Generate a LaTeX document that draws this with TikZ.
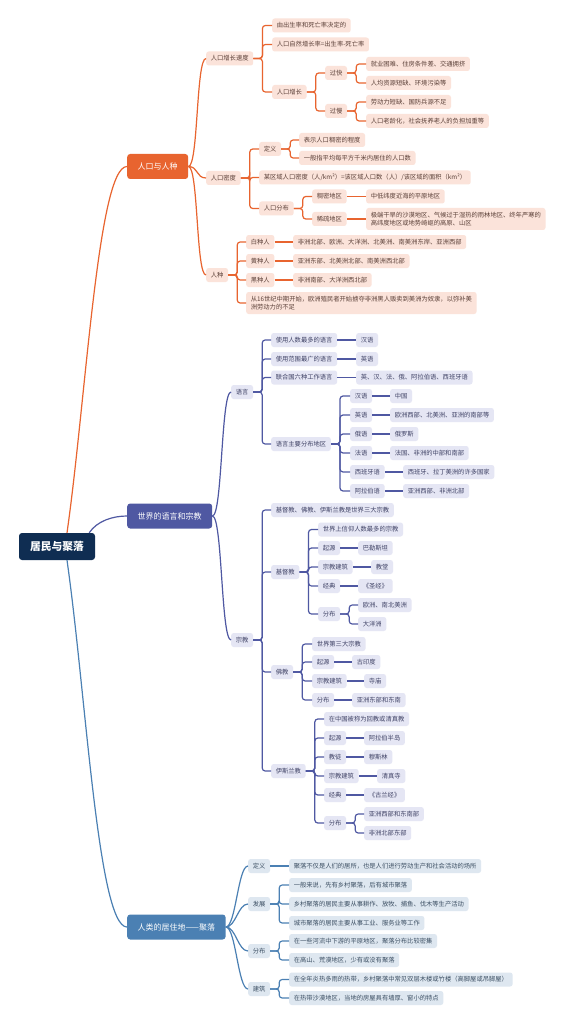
\documentclass[tikz,border=0pt]{standalone}
\usepackage{fontspec}
\newfontfamily\cjkfont{Noto Sans CJK SC}
\usepackage{tikz}
\usetikzlibrary{positioning}
\usepackage{xcolor}

\definecolor{rootc}{HTML}{0F2D52}
\definecolor{orgc}{HTML}{E8642F}
\definecolor{orglt}{HTML}{FBE3DA}
\definecolor{orgtx}{HTML}{5B4038}
\definecolor{purc}{HTML}{4F58A2}
\definecolor{purlt}{HTML}{E5E6F4}
\definecolor{purtx}{HTML}{404366}
\definecolor{bluc}{HTML}{4B80B3}
\definecolor{blult}{HTML}{DEE7F0}
\definecolor{blutx}{HTML}{3C4F63}

\begin{document}
\begin{tikzpicture}[
    x=1pt, y=-1pt,
    rootnode/.style={fill=rootc, text=white, rounded corners=3pt, inner xsep=11pt, minimum height=27pt, font=\cjkfont\bfseries\fontsize{10.8}{12}\selectfont},
    mainnode/.style={anchor=west, text=white, rounded corners=3pt, inner xsep=10.5pt, minimum height=25pt, font=\cjkfont\fontsize{8}{10}\selectfont},
    leaf/.style={anchor=west, rounded corners=2.5pt, inner xsep=4.6pt, inner ysep=0pt, minimum height=14pt, font=\cjkfont\fontsize{6.3}{8.3}\selectfont},
    twoline/.style={align=left, minimum height=22pt},
    oleaf/.style={leaf, fill=orglt, text=orgtx},
    pleaf/.style={leaf, fill=purlt, text=purtx},
    bleaf/.style={leaf, fill=blult, text=blutx},
    olink/.style={draw=orgc, line width=1.2pt, rounded corners=3pt},
    plink/.style={draw=purc, line width=1.2pt, rounded corners=3pt},
    blink/.style={draw=bluc, line width=1.2pt, rounded corners=3pt}
]

\fill[white] (0,0) rectangle (566,1024);
\useasboundingbox (0,0) rectangle (566,1024);

% Root and main topics
\node[rootnode] (root) at (57,546.5) {居民与聚落};
\node[mainnode, fill=orgc] (main1) at (127,166.5) {人口与人种};
\node[mainnode, fill=purc] (main2) at (127,516) {世界的语言和宗教};
\node[mainnode, fill=bluc] (main3) at (127,927) {人类的居住地——聚落};

\draw[olink] ([xshift=10pt]root.north) .. controls +(19,-133) and +(-29,0) .. (main1.west);
\draw[plink] ([xshift=-6pt]root.north east) .. controls +(8,-12) and +(-14,0) .. (main2.west);
\draw[blink] ([xshift=10pt]root.south) .. controls +(19,133) and +(-29,0) .. (main3.west);

% Population growth
\node[oleaf] (a1) at (206,58.5) {人口增长速度};
\node[oleaf] (a11) at (272,25.5) {由出生率和死亡率决定的};
\node[oleaf] (a12) at (272,44.5) {人口自然增长率=出生率-死亡率};
\node[oleaf] (a13) at (272,92) {人口增长};
\node[oleaf] (a131) at (325,73) {过快};
\node[oleaf] (a1311) at (366,64) {就业困难、住房条件差、交通拥挤};
\node[oleaf] (a1312) at (366,83) {人均资源短缺、环境污染等};
\node[oleaf] (a132) at (325,111) {过慢};
\node[oleaf] (a1321) at (366,102) {劳动力短缺、国防兵源不足};
\node[oleaf] (a1322) at (366,121) {人口老龄化，社会抚养老人的负担加重等};

% Population density
\node[oleaf] (a2) at (206,178) {人口密度};
\node[oleaf] (a21) at (259,149) {定义};
\node[oleaf] (a211) at (299,140) {表示人口稠密的程度};
\node[oleaf] (a212) at (299,158) {一般指平均每平方千米内居住的人口数};
\node[oleaf] (a22) at (259,177.5) {某区域人口密度（人/km²）=该区域人口数（人）/该区域的面积（km²）};
\node[oleaf] (a23) at (259,208.5) {人口分布};
\node[oleaf] (a231) at (312,196.5) {稠密地区};
\node[oleaf] (a2311) at (366,196.5) {中低纬度近海的平原地区};
\node[oleaf] (a232) at (312,219) {稀疏地区};
\node[oleaf, twoline] (a2321) at (366,219) {极端干旱的沙漠地区、气候过于湿热的雨林地区、终年严寒的\\高纬度地区或地势崎岖的高原、山区};

% Races
\node[oleaf] (a3) at (206,275) {人种};
\node[oleaf] (a31) at (246,242) {白种人};
\node[oleaf] (a311) at (293,242) {非洲北部、欧洲、大洋洲、北美洲、南美洲东岸、亚洲西部};
\node[oleaf] (a32) at (246,261) {黄种人};
\node[oleaf] (a321) at (293,261) {亚洲东部、北美洲北部、南美洲西北部};
\node[oleaf] (a33) at (246,280) {黑种人};
\node[oleaf] (a331) at (293,280) {非洲南部、大洋洲西北部};
\node[oleaf, twoline] (a34) at (246,303) {从16世纪中期开始，欧洲殖民者开始掳夺非洲黑人贩卖到美洲为奴隶，以弥补美\\洲劳动力的不足};

\draw[olink] (main1.east) .. controls +(10,0) and +(-10,0) .. (a1.west);
\draw[olink] (main1.east) .. controls +(10,0) and +(-10,0) .. (a2.west);
\draw[olink] (main1.east) .. controls +(10,0) and +(-10,0) .. (a3.west);
\draw[olink] (a1.east) -- ++(9,0) |- (a11.west);
\draw[olink] (a1.east) -- ++(9,0) |- (a12.west);
\draw[olink] (a1.east) -- ++(9,0) |- (a13.west);
\draw[olink] (a13.east) -- ++(9,0) |- (a131.west);
\draw[olink] (a13.east) -- ++(9,0) |- (a132.west);
\draw[olink] (a131.east) -- ++(9,0) |- (a1311.west);
\draw[olink] (a131.east) -- ++(9,0) |- (a1312.west);
\draw[olink] (a132.east) -- ++(9,0) |- (a1321.west);
\draw[olink] (a132.east) -- ++(9,0) |- (a1322.west);
\draw[olink] (a2.east) -- ++(9,0) |- (a21.west);
\draw[olink] (a2.east) -- ++(9,0) |- (a22.west);
\draw[olink] (a2.east) -- ++(9,0) |- (a23.west);
\draw[olink] (a21.east) -- ++(9,0) |- (a211.west);
\draw[olink] (a21.east) -- ++(9,0) |- (a212.west);
\draw[olink] (a23.east) -- ++(9,0) |- (a231.west);
\draw[olink] (a23.east) -- ++(9,0) |- (a232.west);
\draw[olink] (a231) -- (a2311);
\draw[olink] (a232) -- (a2321);
\draw[olink] (a3.east) -- ++(9,0) |- (a31.west);
\draw[olink] (a3.east) -- ++(9,0) |- (a32.west);
\draw[olink] (a3.east) -- ++(9,0) |- (a33.west);
\draw[olink] (a3.east) -- ++(9,0) |- (a34.west);
\draw[olink] (a31) -- (a311);
\draw[olink] (a32) -- (a321);
\draw[olink] (a33) -- (a331);

% Languages
\node[pleaf] (b1) at (231,392) {语言};
\node[pleaf] (b11) at (271,340) {使用人数最多的语言};
\node[pleaf] (b111) at (356,340) {汉语};
\node[pleaf] (b12) at (271,359) {使用范围最广的语言};
\node[pleaf] (b121) at (356,359) {英语};
\node[pleaf] (b13) at (271,377.5) {联合国六种工作语言};
\node[pleaf] (b131) at (356,377.5) {英、汉、法、俄、阿拉伯语、西班牙语};
\node[pleaf] (b14) at (271,444) {语言主要分布地区};
\node[pleaf] (b141) at (350,396) {汉语};
\node[pleaf] (b1411) at (390,396) {中国};
\node[pleaf] (b142) at (350,415) {英语};
\node[pleaf] (b1421) at (390,415) {欧洲西部、北美洲、亚洲的南部等};
\node[pleaf] (b143) at (350,434) {俄语};
\node[pleaf] (b1431) at (390,434) {俄罗斯};
\node[pleaf] (b144) at (350,453) {法语};
\node[pleaf] (b1441) at (390,453) {法国、非洲的中部和南部};
\node[pleaf] (b145) at (350,472) {西班牙语};
\node[pleaf] (b1451) at (403,472) {西班牙、拉丁美洲的许多国家};
\node[pleaf] (b146) at (350,491) {阿拉伯语};
\node[pleaf] (b1461) at (403,491) {亚洲西部、非洲北部};

% Religions
\node[pleaf] (b2) at (231,640) {宗教};
\node[pleaf] (b21) at (271,510) {基督教、佛教、伊斯兰教是世界三大宗教};
\node[pleaf] (b22) at (271,572) {基督教};
\node[pleaf] (b221) at (318,529.5) {世界上信仰人数最多的宗教};
\node[pleaf] (b222) at (318,548) {起源};
\node[pleaf] (b2221) at (358,548) {巴勒斯坦};
\node[pleaf] (b223) at (318,567) {宗教建筑};
\node[pleaf] (b2231) at (371,567) {教堂};
\node[pleaf] (b224) at (318,586) {经典};
\node[pleaf] (b2241) at (358,586) {《圣经》};
\node[pleaf] (b225) at (318,614) {分布};
\node[pleaf] (b2251) at (358,605) {欧洲、南北美洲};
\node[pleaf] (b2252) at (358,624) {大洋洲};
\node[pleaf] (b23) at (271,672) {佛教};
\node[pleaf] (b231) at (312,644) {世界第三大宗教};
\node[pleaf] (b232) at (312,662) {起源};
\node[pleaf] (b2321) at (352,662) {古印度};
\node[pleaf] (b233) at (312,681) {宗教建筑};
\node[pleaf] (b2331) at (364,681) {寺庙};
\node[pleaf] (b234) at (312,700) {分布};
\node[pleaf] (b2341) at (352,700) {亚洲东部和东南};
\node[pleaf] (b24) at (271,771) {伊斯兰教};
\node[pleaf] (b241) at (324,719) {在中国被称为回教或清真教};
\node[pleaf] (b242) at (324,738) {起源};
\node[pleaf] (b2421) at (364,738) {阿拉伯半岛};
\node[pleaf] (b243) at (324,757) {教徒};
\node[pleaf] (b2431) at (364,757) {穆斯林};
\node[pleaf] (b244) at (324,776) {宗教建筑};
\node[pleaf] (b2441) at (377,776) {清真寺};
\node[pleaf] (b245) at (324,795) {经典};
\node[pleaf] (b2451) at (364,795) {《古兰经》};
\node[pleaf] (b246) at (324,823) {分布};
\node[pleaf] (b2461) at (364,814) {亚洲西部和东南部};
\node[pleaf] (b2462) at (364,833) {非洲北部东部};

\draw[plink] (main2.east) .. controls +(10,0) and +(-10,0) .. (b1.west);
\draw[plink] (main2.east) .. controls +(10,0) and +(-10,0) .. (b2.west);
\draw[plink] (b1.east) -- ++(9,0) |- (b11.west);
\draw[plink] (b1.east) -- ++(9,0) |- (b12.west);
\draw[plink] (b1.east) -- ++(9,0) |- (b13.west);
\draw[plink] (b1.east) -- ++(9,0) |- (b14.west);
\draw[plink] (b11) -- (b111);
\draw[plink] (b12) -- (b121);
\draw[plink] (b13) -- (b131);
\draw[plink] (b14.east) -- ++(9,0) |- (b141.west);
\draw[plink] (b14.east) -- ++(9,0) |- (b142.west);
\draw[plink] (b14.east) -- ++(9,0) |- (b143.west);
\draw[plink] (b14.east) -- ++(9,0) |- (b144.west);
\draw[plink] (b14.east) -- ++(9,0) |- (b145.west);
\draw[plink] (b14.east) -- ++(9,0) |- (b146.west);
\draw[plink] (b141) -- (b1411);
\draw[plink] (b142) -- (b1421);
\draw[plink] (b143) -- (b1431);
\draw[plink] (b144) -- (b1441);
\draw[plink] (b145) -- (b1451);
\draw[plink] (b146) -- (b1461);
\draw[plink] (b2.east) -- ++(9,0) |- (b21.west);
\draw[plink] (b2.east) -- ++(9,0) |- (b22.west);
\draw[plink] (b2.east) -- ++(9,0) |- (b23.west);
\draw[plink] (b2.east) -- ++(9,0) |- (b24.west);
\draw[plink] (b22.east) -- ++(9,0) |- (b221.west);
\draw[plink] (b22.east) -- ++(9,0) |- (b222.west);
\draw[plink] (b22.east) -- ++(9,0) |- (b223.west);
\draw[plink] (b22.east) -- ++(9,0) |- (b224.west);
\draw[plink] (b22.east) -- ++(9,0) |- (b225.west);
\draw[plink] (b222) -- (b2221);
\draw[plink] (b223) -- (b2231);
\draw[plink] (b224) -- (b2241);
\draw[plink] (b225.east) -- ++(9,0) |- (b2251.west);
\draw[plink] (b225.east) -- ++(9,0) |- (b2252.west);
\draw[plink] (b23.east) -- ++(9,0) |- (b231.west);
\draw[plink] (b23.east) -- ++(9,0) |- (b232.west);
\draw[plink] (b23.east) -- ++(9,0) |- (b233.west);
\draw[plink] (b23.east) -- ++(9,0) |- (b234.west);
\draw[plink] (b232) -- (b2321);
\draw[plink] (b233) -- (b2331);
\draw[plink] (b234) -- (b2341);
\draw[plink] (b24.east) -- ++(9,0) |- (b241.west);
\draw[plink] (b24.east) -- ++(9,0) |- (b242.west);
\draw[plink] (b24.east) -- ++(9,0) |- (b243.west);
\draw[plink] (b24.east) -- ++(9,0) |- (b244.west);
\draw[plink] (b24.east) -- ++(9,0) |- (b245.west);
\draw[plink] (b24.east) -- ++(9,0) |- (b246.west);
\draw[plink] (b242) -- (b2421);
\draw[plink] (b243) -- (b2431);
\draw[plink] (b244) -- (b2441);
\draw[plink] (b245) -- (b2451);
\draw[plink] (b246.east) -- ++(9,0) |- (b2461.west);
\draw[plink] (b246.east) -- ++(9,0) |- (b2462.west);

% Settlements
\node[bleaf] (c1) at (248,866) {定义};
\node[bleaf] (c11) at (289,866) {聚落不仅是人们的居所，也是人们进行劳动生产和社会活动的场所};
\node[bleaf] (c2) at (248,904) {发展};
\node[bleaf] (c21) at (289,885) {一般来说，先有乡村聚落，后有城市聚落};
\node[bleaf] (c22) at (289,904) {乡村聚落的居民主要从事耕作、放牧、捕鱼、伐木等生产活动};
\node[bleaf] (c23) at (289,923) {城市聚落的居民主要从事工业、服务业等工作};
\node[bleaf] (c3) at (248,951) {分布};
\node[bleaf] (c31) at (289,941) {在一些河流中下游的平原地区，聚落分布比较密集};
\node[bleaf] (c32) at (289,960) {在高山、荒漠地区，少有或没有聚落};
\node[bleaf] (c4) at (248,989) {建筑};
\node[bleaf] (c41) at (289,979.5) {在全年炎热多雨的热带，乡村聚落中常见双层木楼或竹楼（高脚屋或吊脚屋）};
\node[bleaf] (c42) at (289,998) {在热带沙漠地区，当地的房屋具有墙厚、窗小的特点};

\draw[blink] (main3.east) .. controls +(10,0) and +(-10,0) .. (c1.west);
\draw[blink] (main3.east) .. controls +(10,0) and +(-10,0) .. (c2.west);
\draw[blink] (main3.east) .. controls +(10,0) and +(-10,0) .. (c3.west);
\draw[blink] (main3.east) .. controls +(10,0) and +(-10,0) .. (c4.west);
\draw[blink] (c1) -- (c11);
\draw[blink] (c2.east) -- ++(9,0) |- (c21.west);
\draw[blink] (c2.east) -- ++(9,0) |- (c22.west);
\draw[blink] (c2.east) -- ++(9,0) |- (c23.west);
\draw[blink] (c3.east) -- ++(9,0) |- (c31.west);
\draw[blink] (c3.east) -- ++(9,0) |- (c32.west);
\draw[blink] (c4.east) -- ++(9,0) |- (c41.west);
\draw[blink] (c4.east) -- ++(9,0) |- (c42.west);

\end{tikzpicture}
\end{document}
